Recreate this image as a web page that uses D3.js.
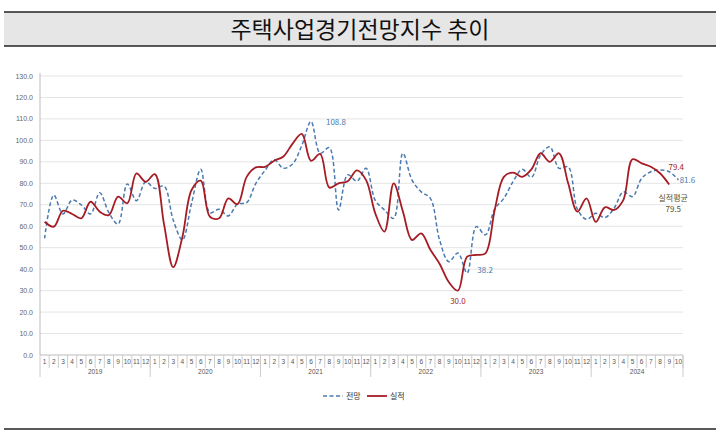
<!DOCTYPE html><html><head><meta charset="utf-8">
<script src="https://cdn.jsdelivr.net/npm/d3@7"></script>
<style>body{margin:0;background:#fff;font-family:"Noto Sans CJK KR","Noto Sans",sans-serif}</style></head><body>
<svg id="c" width="720" height="433"></svg>
<script>
const years=["2019","2020","2021","2022","2023","2024"];
const months=["1","2","3","4","5","6","7","8","9","10","11","12"];
const forecast=[54.3,74.5,65.7,72.2,69.9,65.7,75.6,66.3,61,79.7,71.9,80.7,
77.6,78.7,62.9,53.6,70.7,86.5,66.3,67.9,64.8,70.3,71,80,
86,91,87,89,97.6,108.8,94,96.6,67.6,84,81,87,
72,67.6,63.7,94,81.5,76,73,53.6,43.5,47.5,38.2,59.8,
56,68,73,80.8,86.5,82.8,93.2,97,87,87.7,68,63.2,
66,64,68.4,76,73.8,82.3,85.4,86.2,85.4,81.6];
const actual=[62.1,59.8,67.2,65.7,63.7,71.4,66.8,65.2,73.8,70.7,84.6,80.7,
84.3,61,40.9,55,76.9,81.2,64.4,63.7,73,70.3,83,87.4,
87.7,90.5,92.5,98.5,103,90.5,93.7,78,80,81,86,81.5,
66,57.5,80,67,53.6,56.7,49,42.5,34,30,45.8,46.6,
47.4,67.6,83,85,83,86.5,94,90,94,80,66.8,73,
62,68.8,67.6,72.2,91.2,89.3,87.7,84.7,79.4];
const yTicks=d3.range(0,131,10);
const svg=d3.select("#c");
const L=40,R=683,T=76,B=355;
const cats=[];years.forEach(y=>months.forEach(m=>cats.push(y+"-"+m)));
const n=forecast.length;
const x=d3.scaleBand().domain(cats.slice(0,n)).range([L,R]);
const y=d3.scaleLinear().domain([0,130]).range([B,T]);
const cx=i=>x(cats[i])+x.bandwidth()/2;
svg.append("rect").attr("x",4).attr("y",12).attr("width",712).attr("height",34).attr("fill","#e6e6e6");
svg.append("line").attr("x1",4).attr("x2",716).attr("y1",12).attr("y2",12).attr("stroke","#222").attr("stroke-width",1.5);
svg.append("line").attr("x1",4).attr("x2",716).attr("y1",46).attr("y2",46).attr("stroke","#222").attr("stroke-width",1.5);
svg.append("line").attr("x1",4).attr("x2",716).attr("y1",429).attr("y2",429).attr("stroke","#222").attr("stroke-width",1.5);
svg.append("text").attr("x",360).attr("y",38).attr("text-anchor","middle").attr("font-size",23).attr("fill","#111").text("주택사업경기전망지수  추이");
yTicks.forEach(t=>{
 svg.append("line").attr("x1",L).attr("x2",R).attr("y1",y(t)).attr("y2",y(t)).attr("stroke",t===0?"#bbb":"#e4e4e4");
 svg.append("text").attr("x",33).attr("y",y(t)+2.5).attr("text-anchor","end").attr("font-size",7).attr("fill","#666").attr("font-family","Liberation Sans").text(t.toFixed(1));
});
svg.append("line").attr("x1",L).attr("x2",L).attr("y1",T-3).attr("y2",B).attr("stroke","#bbb");
const bw=x.bandwidth();
for(let i=0;i<n;i++){
 const m=cats[i].split("-")[1];
 svg.append("text").attr("x",cx(i)).attr("y",364).attr("text-anchor","middle").attr("font-size",6.5).attr("fill","#555").attr("font-family","Liberation Sans").text(m);
 svg.append("line").attr("x1",x(cats[i])+bw).attr("x2",x(cats[i])+bw).attr("y1",B).attr("y2",368).attr("stroke","#ccc");
}
years.forEach((yr,k)=>{
 const i0=k*12,i1=Math.min(n,k*12+12)-1;
 const a=x(cats[i0]),b=x(cats[i1])+bw;
 svg.append("text").attr("x",(a+b)/2).attr("y",374).attr("text-anchor","middle").attr("font-size",6.5).attr("fill","#555").attr("font-family","Liberation Sans").text(yr);
 svg.append("line").attr("x1",a).attr("x2",a).attr("y1",B).attr("y2",377).attr("stroke","#ccc");
 if(k===years.length-1)svg.append("line").attr("x1",b).attr("x2",b).attr("y1",B).attr("y2",377).attr("stroke","#ccc");
});
const line=d3.line().x((d,i)=>cx(i)).y(d=>y(d)).curve(d3.curveCatmullRom.alpha(0.5));
svg.append("path").attr("d",line(forecast)).attr("fill","none").attr("stroke","#4a7ab0").attr("stroke-width",1.5).attr("stroke-dasharray","4,2.5");
svg.append("path").attr("d",line(actual)).attr("fill","none").attr("stroke","#a51c24").attr("stroke-width",1.8);
const ann=(t,xx,yy,c)=>svg.append("text").attr("x",xx).attr("y",yy).attr("font-size",8).attr("fill",c).attr("text-anchor","middle").text(t);
ann("108.8",cx(29)+25,y(108.8)+4,"#4a7ab0");
ann("38.2",cx(46)+18,y(38.2),"#4a7ab0");
ann("30.0",cx(45),y(30)+13,"#a51c24");
ann("79.4",cx(68)+7,y(79.4)-15,"#a51c24");
ann("81.6",cx(69)+9,y(81.6)+3,"#4a7ab0");
ann("실적평균",cx(68)+4,201,"#55512b");
ann("79.5",cx(68)+4,212,"#55512b");
svg.append("line").attr("x1",323).attr("x2",343).attr("y1",396).attr("y2",396).attr("stroke","#4a7ab0").attr("stroke-width",1.5).attr("stroke-dasharray","4,2.5");
svg.append("text").attr("x",346).attr("y",399).attr("font-size",8).attr("fill","#333").text("전망");
svg.append("line").attr("x1",367).attr("x2",387).attr("y1",396).attr("y2",396).attr("stroke","#a51c24").attr("stroke-width",1.8);
svg.append("text").attr("x",390).attr("y",399).attr("font-size",8).attr("fill","#333").text("실적");
</script></body></html>
